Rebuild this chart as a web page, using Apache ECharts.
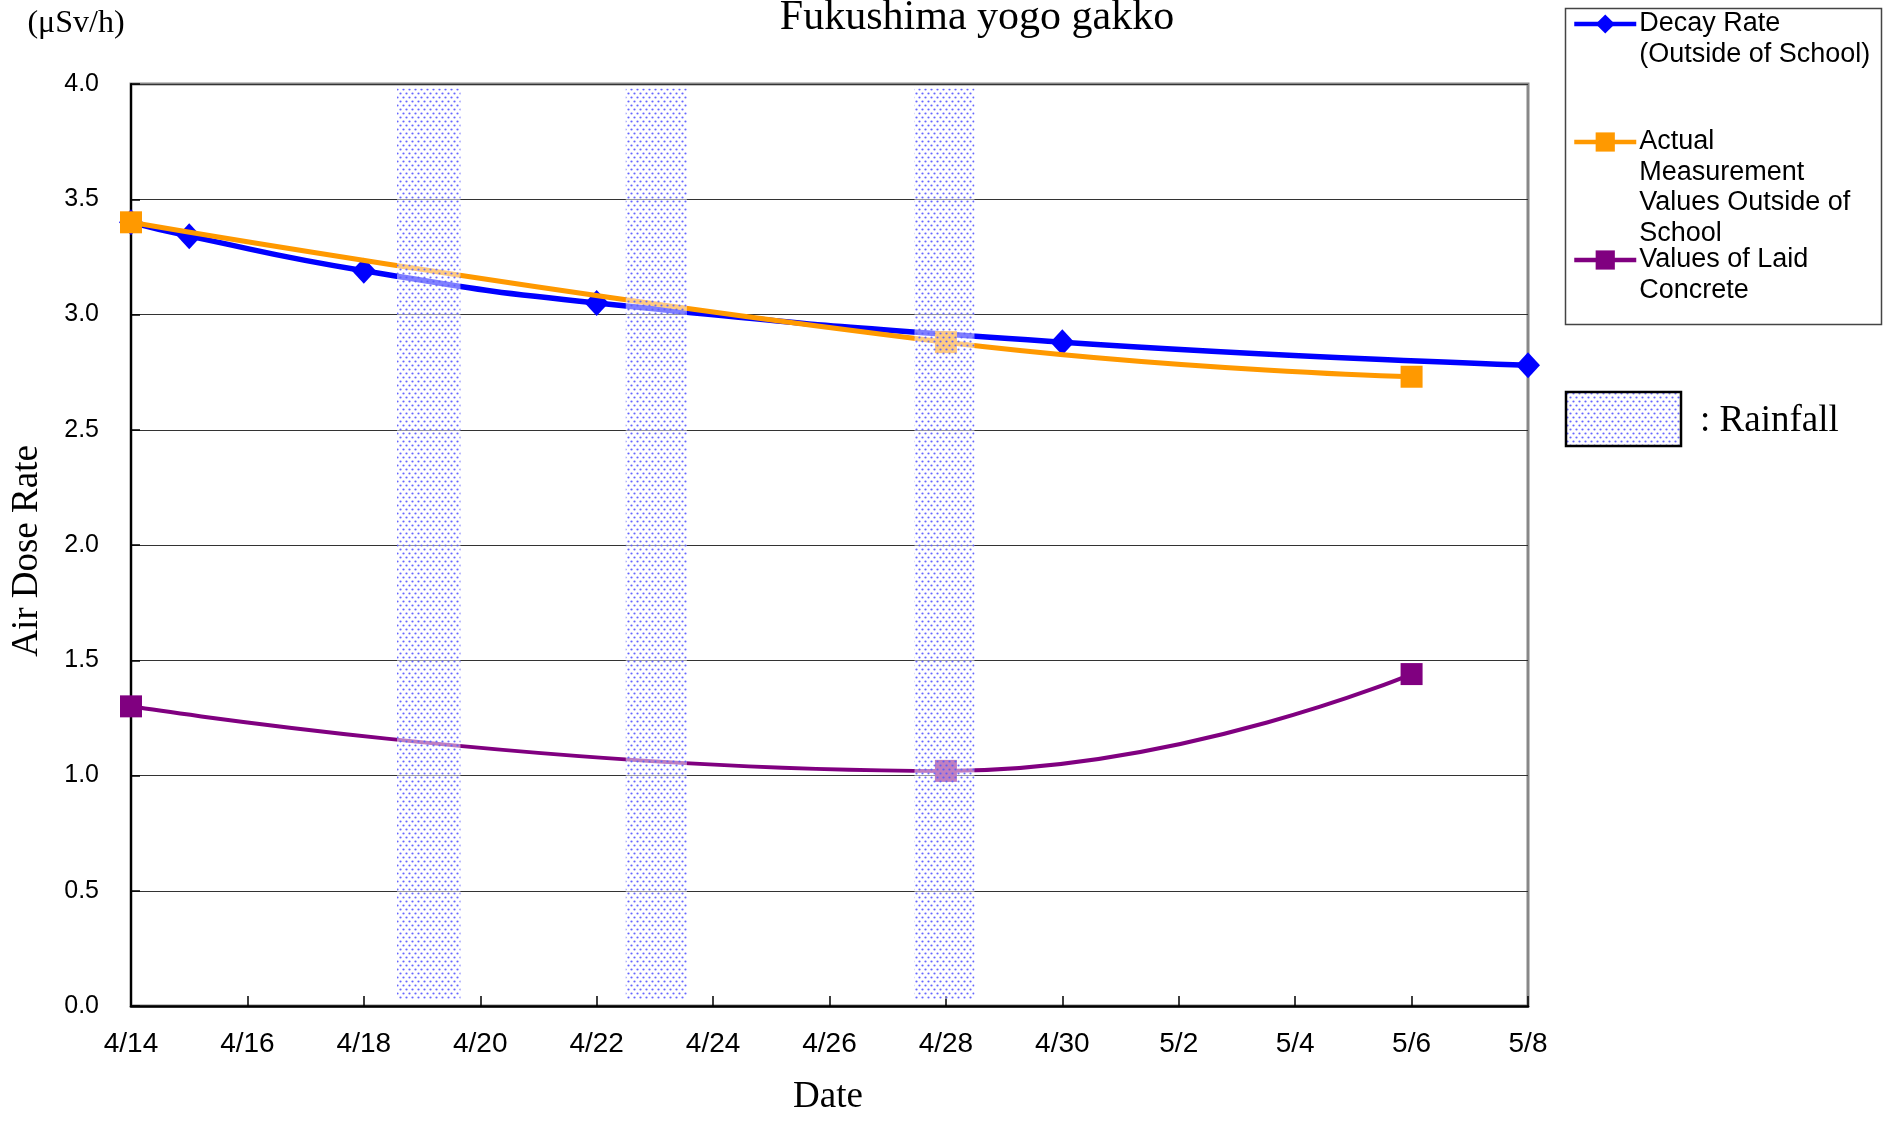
<!DOCTYPE html>
<html>
<head>
<meta charset="utf-8">
<script src="https://cdn.jsdelivr.net/npm/echarts@6/dist/echarts.min.js"></script>
<style>
html,body{margin:0;padding:0;background:#fff;}
#chart{width:1887px;height:1121px;}
</style>
</head>
<body>
<div id="chart"></div>
<script>
// ---- data ----
const xLabels = ['4/14','4/16','4/18','4/20','4/22','4/24','4/26','4/28','4/30','5/2','5/4','5/6','5/8'];
// day offsets from 4/14
const decayDays = [0, 1, 4, 8, 16, 24];
const decayValues = [3.40, 3.34, 3.19, 3.05, 2.88, 2.78];
const actualDays = [0, 14, 22];
const actualValues = [3.40, 2.88, 2.73];
const concreteDays = [0, 14, 22];
const concreteValues = [1.30, 1.02, 1.44];
const rainStart = [4.57, 8.50, 13.46];
const rainEnd = [5.66, 9.55, 14.49];
const seriesNames = ['Decay Rate (Outside of School)', 'Actual Measurement Values Outside of School', 'Values of Laid Concrete'];
const legendLines = [
  ['Decay Rate', '(Outside of School)'],
  ['Actual', 'Measurement', 'Values Outside of', 'School'],
  ['Values of Laid', 'Concrete']
];

// ---- pattern ----
function makePattern() {
  const c = document.createElement('canvas');
  c.width = 6; c.height = 8;
  const g = c.getContext('2d');
  g.fillStyle = 'rgba(255,255,255,0.5)';
  g.fillRect(0, 0, 6, 8);
  g.fillStyle = 'rgba(85,85,255,0.9)';
  g.beginPath(); g.arc(1.5, 1.5, 1.1, 0, Math.PI * 2); g.fill();
  g.beginPath(); g.arc(4.5, 5.5, 1.1, 0, Math.PI * 2); g.fill();
  return c;
}
const pat = makePattern();
const patternFill = { image: pat, repeat: 'repeat' };

const pair = (xs, ys) => xs.map((x, i) => [x, ys[i]]);

const LH = 30.5;
function legendFor(i, firstLineY, color) {
  const lines = legendLines[i];
  const n = lines.length;
  const text = new Array(n - 1).fill('').concat(lines).join('\n');
  const total = (2 * n - 1) * LH;
  return {
    left: 1572,
    top: firstLineY - total / 2,
    orient: 'vertical',
    padding: 0,
    itemWidth: 62,
    itemHeight: 24,
    itemGap: 4,
    selectedMode: false,
    data: [seriesNames[i]],
    formatter: () => text,
    lineStyle: { width: 4.5, color: color },
    textStyle: {
      fontFamily: 'Liberation Sans, Arial, sans-serif',
      fontSize: 27,
      lineHeight: LH,
      color: '#000',
      padding: [0, 0, 0, -2]
    }
  };
}

const chart = echarts.init(document.getElementById('chart'), null, { renderer: 'canvas' });
const serif = 'Liberation Serif, Times New Roman, serif';
const option = {
  animation: false,
  backgroundColor: '#fff',
  grid: {
    left: 131, right: 359, top: 84, bottom: 115,
    show: true, borderColor: '#888', borderWidth: 3, backgroundColor: 'transparent'
  },
  xAxis: {
    type: 'value', min: 0, max: 24, interval: 2,
    axisLine: { lineStyle: { color: '#000', width: 2.5 } },
    axisTick: { inside: true, length: 10, lineStyle: { color: '#000', width: 1.5 } },
    splitLine: { show: false },
    axisLabel: {
      formatter: v => xLabels[Math.round(v / 2)],
      fontFamily: 'Liberation Sans, Arial, sans-serif',
      fontSize: 28, color: '#000', margin: 24
    }
  },
  yAxis: {
    type: 'value', min: 0, max: 4, interval: 0.5,
    axisLine: { show: true, lineStyle: { color: '#000', width: 2 } },
    axisTick: { show: true, inside: true, length: 9, lineStyle: { color: '#000', width: 1.5 } },
    splitLine: { lineStyle: { color: '#333', width: 1.2 } },
    axisLabel: {
      formatter: v => v.toFixed(1),
      fontFamily: 'Liberation Sans, Arial, sans-serif',
      fontSize: 25, color: '#000', margin: 32
    }
  },
  legend: [legendFor(0, 24, '#0000ff'), legendFor(1, 142, '#ff9900'), legendFor(2, 260, '#800080')],
  graphic: [
    { type: 'text', x: 977, y: 18, style: { text: 'Fukushima yogo gakko', font: '42px ' + serif, fill: '#000', textAlign: 'center', textVerticalAlign: 'middle' } },
    { type: 'text', x: 76, y: 24, style: { text: '(μSv/h)', font: '32px ' + serif, fill: '#000', textAlign: 'center', textVerticalAlign: 'middle' } },
    { type: 'text', x: 27, y: 551, rotation: Math.PI / 2, style: { text: 'Air Dose Rate', font: '37px ' + serif, fill: '#000', textAlign: 'center', textVerticalAlign: 'middle' } },
    { type: 'text', x: 828, y: 1097, style: { text: 'Date', font: '37px ' + serif, fill: '#000', textAlign: 'center', textVerticalAlign: 'middle' } },
    { type: 'rect', shape: { x: 1565.5, y: 8.5, width: 316, height: 316 }, style: { fill: 'none', stroke: '#444', lineWidth: 1.5 }, z: -1 },
    { type: 'rect', shape: { x: 1566, y: 392, width: 115, height: 54 }, style: { fill: patternFill, stroke: '#000', lineWidth: 2.5 } },
    { type: 'text', x: 1700, y: 421, style: { text: ': Rainfall', font: '37px ' + serif, fill: '#000', textAlign: 'left', textVerticalAlign: 'middle' } }
  ],
  series: [
    {
      name: seriesNames[0], type: 'line', smooth: true,
      data: pair(decayDays, decayValues),
      symbol: 'diamond', symbolSize: [24, 26],
      lineStyle: { color: '#0000ff', width: 5.5 },
      itemStyle: { color: '#0000ff' },
      z: 3
    },
    {
      name: seriesNames[1], type: 'line', smooth: true,
      data: pair(actualDays, actualValues),
      symbol: 'rect', symbolSize: 22,
      lineStyle: { color: '#ff9900', width: 5 },
      itemStyle: { color: '#ff9900' },
      z: 4
    },
    {
      name: seriesNames[2], type: 'line', smooth: true,
      data: pair(concreteDays, concreteValues),
      symbol: 'rect', symbolSize: 22,
      lineStyle: { color: '#800080', width: 4 },
      itemStyle: { color: '#800080' },
      z: 4
    },
    {
      name: 'Rainfall', type: 'custom', z: 10, silent: true,
      data: rainStart.map((s, i) => [s, rainEnd[i]]),
      encode: { x: [0, 1] },
      renderItem: function (params, api) {
        const p0 = api.coord([api.value(0), 3.98]);
        const p1 = api.coord([api.value(1), 0.03]);
        return {
          type: 'rect',
          shape: { x: p0[0], y: p0[1], width: p1[0] - p0[0], height: p1[1] - p0[1] },
          style: { fill: patternFill }
        };
      }
    }
  ]
};
chart.setOption(option);
</script>
</body>
</html>
